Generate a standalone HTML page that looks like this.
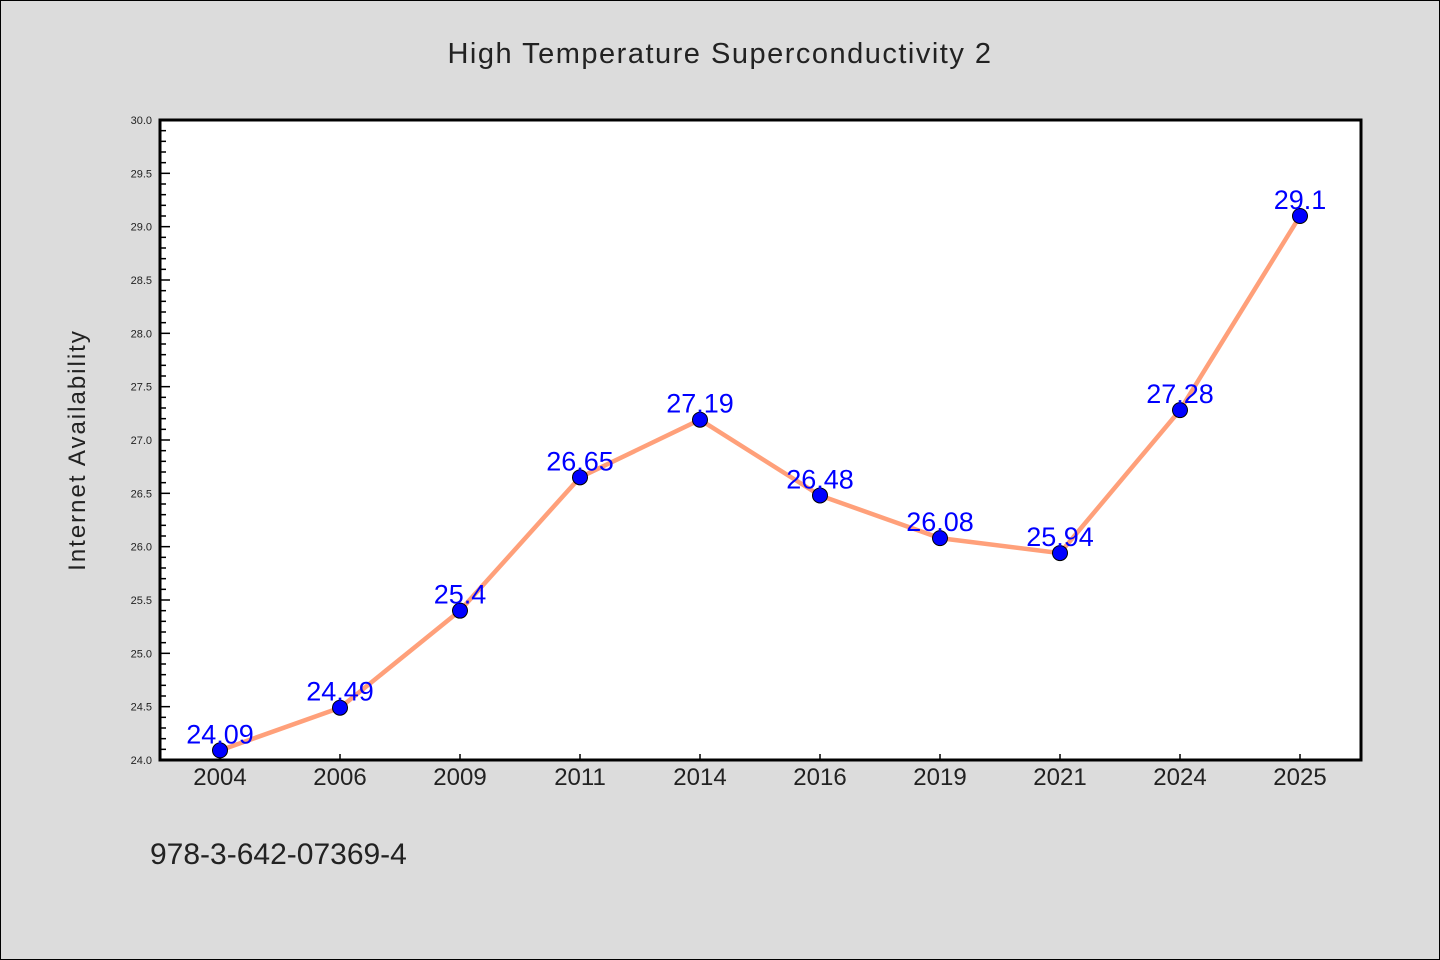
<!DOCTYPE html>
<html><head><meta charset="utf-8"><style>
body{margin:0;background:#dcdcdc;}
svg{display:block;font-family:"WenQuanYi Zen Hei","Liberation Sans",sans-serif;}
</style></head><body>
<svg id="chart" width="1440" height="960">
<rect x="0.5" y="0.5" width="1439" height="959" fill="#dcdcdc" stroke="#000"/>
<text x="720" y="63" text-anchor="middle" font-size="29" fill="#222" letter-spacing="1.5">High Temperature Superconductivity 2</text>
<text transform="translate(85,450) rotate(-90)" text-anchor="middle" font-size="24" fill="#222" letter-spacing="2">Internet Availability</text>
<text x="150" y="864" font-size="30" fill="#222">978-3-642-07369-4</text>
<rect x="160" y="120" width="1201" height="640" fill="#fff"/>
<g id="axes"></g>
<g id="marks"></g>
<rect x="160" y="120" width="1201" height="640" fill="none" stroke="#000" stroke-width="3"/>
</svg>
<script>
const categories=["2004","2006","2009","2011","2014","2016","2019","2021","2024","2025"];
const values=[24.09,24.49,25.4,26.65,27.19,26.48,26.08,25.94,27.28,29.1];
const valueLabels=["24.09","24.49","25.4","26.65","27.19","26.48","26.08","25.94","27.28","29.1"];
const yTicks=[24.0,24.5,25.0,25.5,26.0,26.5,27.0,27.5,28.0,28.5,29.0,29.5,30.0];
const yMin=24,yMax=30;
const L=160,R=1361,T=120,B=760;
const ns="http://www.w3.org/2000/svg";
function x(i){return 220+i*(1300-220)/(categories.length-1);}
function y(v){return B-(v-yMin)/(yMax-yMin)*(B-T);}
function mk(t,a,p){const e=document.createElementNS(ns,t);for(const k in a)e.setAttribute(k,a[k]);p.appendChild(e);return e;}
const axes=document.getElementById('axes'),marks=document.getElementById('marks');
for(let v=yMin;v<=yMax+1e-9;v+=0.1){
  const major=Math.abs(v*2-Math.round(v*2))<1e-6;
  const ln=mk('line',{x1:L,x2:L+(major?10:6),y1:y(v),y2:y(v),stroke:'#000','stroke-width':1.5},axes);
  
  
}
yTicks.forEach(v=>{
  const t=mk('text',{x:152,y:y(v)+4,'text-anchor':'end','font-size':11,fill:'#222'},axes);
  t.textContent=v.toFixed(1);
  
  
});
categories.forEach((c,i)=>{
  const ln=mk('line',{x1:x(i),x2:x(i),y1:B,y2:B-6,stroke:'#000','stroke-width':1.5},axes);
  
  
  const t=mk('text',{x:x(i),y:785,'text-anchor':'middle','font-size':24,fill:'#222'},axes);
  t.textContent=c;
  
  
});
const pl=mk('polyline',{points:values.map((v,i)=>x(i)+','+y(v)).join(' '),fill:'none',stroke:'#ffa07a','stroke-width':4.5},marks);


values.forEach((v,i)=>{
  const c=mk('circle',{cx:x(i),cy:y(v),r:7.5,fill:'#0000ff',stroke:'#000','stroke-width':1},marks);
  
  
  const t=mk('text',{x:x(i),y:y(v)-7,'text-anchor':'middle','font-size':27,fill:'#0000ff'},marks);
  t.textContent=valueLabels[i];
  
  
});
</script>
</body></html>
